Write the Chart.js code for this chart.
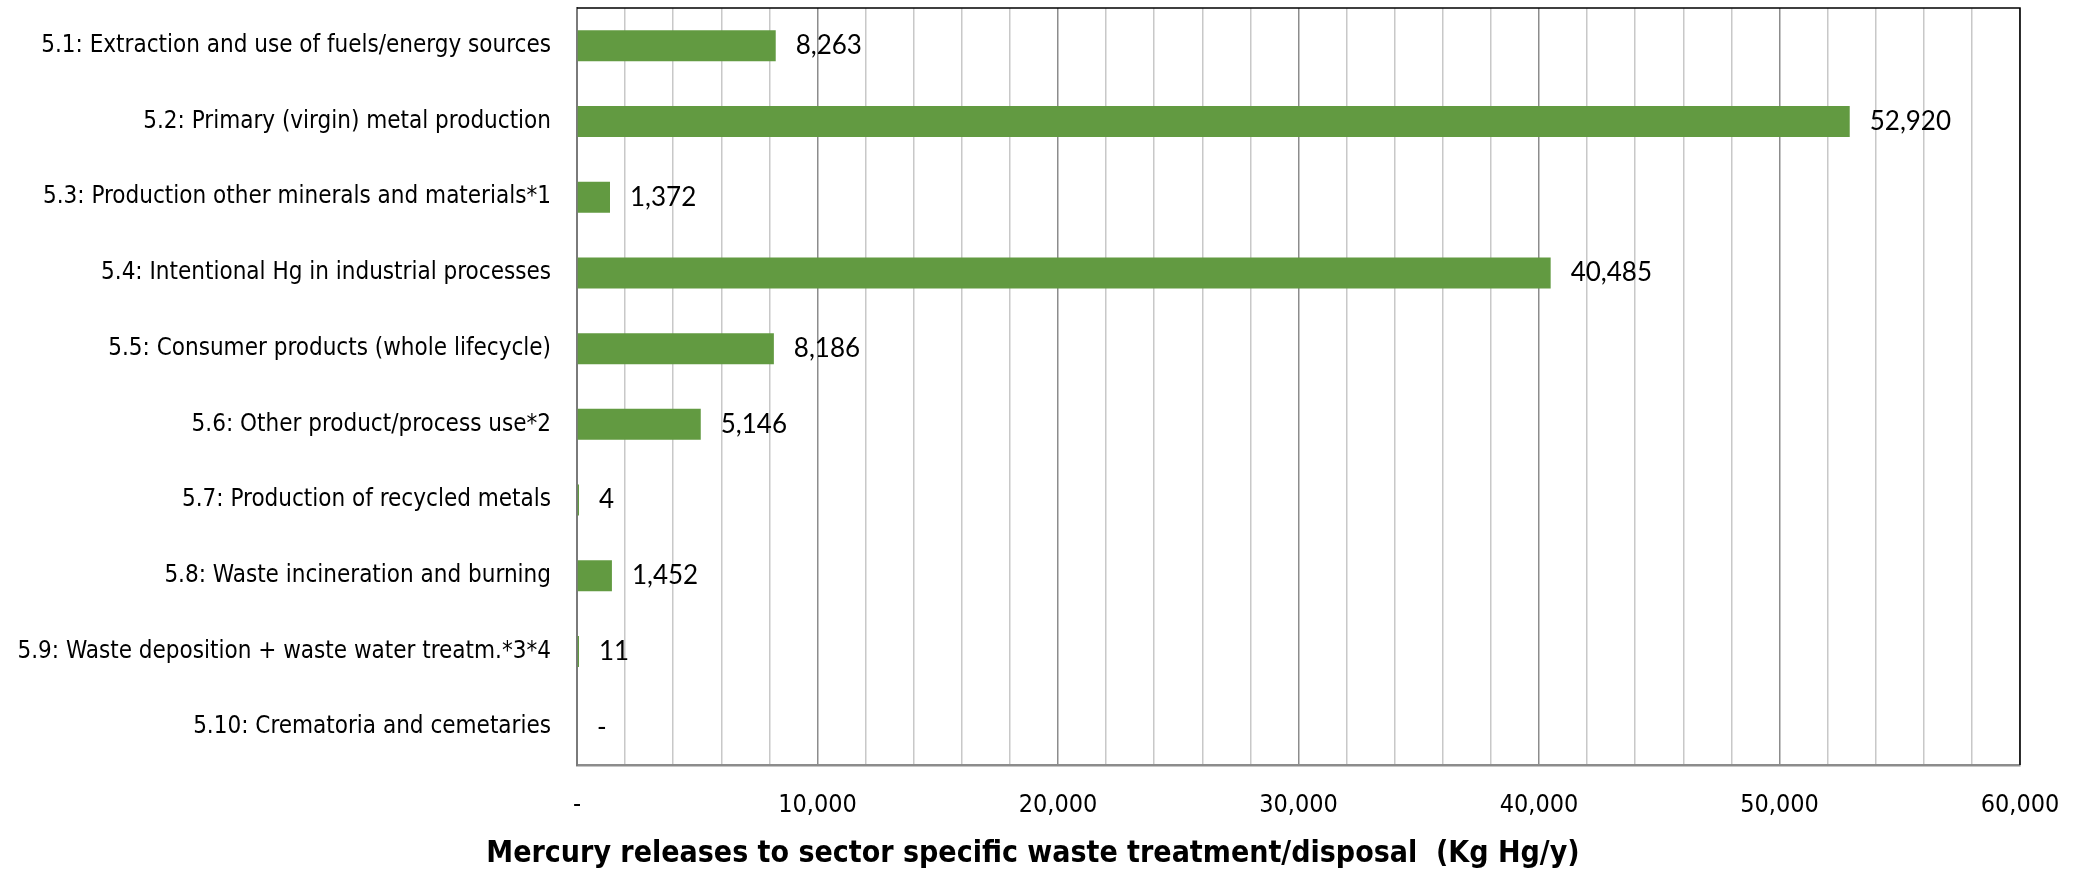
<!DOCTYPE html>
<html>
<head>
<meta charset="utf-8">
<script src="https://cdn.jsdelivr.net/npm/chart.js@4.4.0/dist/chart.umd.min.js"></script>
<style>
  html, body { margin: 0; padding: 0; background: #fff; }
  #wrap { width: 2076px; height: 872px; }
</style>
</head>
<body>
<div id="wrap"><canvas id="chart-mercury"></canvas></div>
<script>
// categories and values
var sectors = [
  '5.1: Extraction and use of fuels/energy sources',
  '5.2: Primary (virgin) metal production',
  '5.3: Production other minerals and materials*1',
  '5.4: Intentional Hg in industrial processes',
  '5.5: Consumer products (whole lifecycle)',
  '5.6: Other product/process use*2',
  '5.7: Production of recycled metals',
  '5.8: Waste incineration and burning',
  '5.9: Waste deposition + waste water treatm.*3*4',
  '5.10: Crematoria and cemetaries',
];
var releases = [8263, 52920, 1372, 40485, 8186, 5146, 4, 1452, 11, 0];
var axisMax = 60000;
var axisStep = 2000;
var labelStep = 10000;
var axisTitle = 'Mercury releases to sector specific waste treatment/disposal  (Kg Hg/y)';

var narrow = "'Liberation Sans Narrow', 'DejaVu Sans Condensed', sans-serif";

function fmt(v) {
  return v === 0 ? '-' : v.toLocaleString('en-US');
}

// value labels to the right of each bar
var barLabels = {
  id: 'barLabels',
  afterDatasetsDraw: function (chart) {
    var c = chart.ctx;
    var meta = chart.getDatasetMeta(0);
    var x0 = chart.scales.x.getPixelForValue(0);
    c.save();
    c.font = '26px Lato, sans-serif';
    c.fillStyle = '#000';
    c.textBaseline = 'middle';
    c.textAlign = 'left';
    meta.data.forEach(function (bar, i) {
      var y = chart.scales.y.getPixelForValue(i);
      var x = releases[i] === 0 ? x0 : bar.x;
      c.fillText(fmt(releases[i]), x + 20, y);
    });
    c.restore();
  },
};

// top and right border of the plot area
var frame = {
  id: 'frame',
  afterDraw: function (chart) {
    var a = chart.chartArea;
    var c = chart.ctx;
    c.save();
    c.strokeStyle = '#000';
    c.lineWidth = 1.5;
    c.beginPath();
    c.moveTo(a.left, a.top);
    c.lineTo(a.right, a.top);
    c.lineTo(a.right, a.bottom);
    c.stroke();
    c.restore();
  },
};

var ctx = document.getElementById('chart-mercury').getContext('2d');
var chart = new Chart(ctx, {
  type: 'bar',
  plugins: [barLabels, frame],
  data: {
    labels: sectors,
    datasets: [
      {
        label: 'Releases',
        // zero is shown only by its "-" label, no bar
        data: releases.map(function (v) { return v === 0 ? null : v; }),
        backgroundColor: '#629A41',
        borderWidth: 0,
        minBarLength: 2,
        barPercentage: 0.41,
        categoryPercentage: 1,
      },
    ],
  },
  options: {
    indexAxis: 'y',
    responsive: true,
    maintainAspectRatio: false,
    animation: false,
    layout: {
      padding: { top: 8, right: 10, left: 0, bottom: 0 },
    },
    plugins: {
      legend: { display: false },
      tooltip: { enabled: false },
      title: {
        display: true,
        position: 'bottom',
        text: axisTitle,
        color: '#000',
        font: { family: narrow, size: 30, weight: 'bold' },
        padding: { top: 15, bottom: 0 },
      },
    },
    scales: {
      x: {
        min: 0,
        max: axisMax,
        afterFit: function (scale) {
          scale.height = 56;
          scale.paddingLeft = 0;
          scale.paddingRight = 56;
        },
        grid: {
          drawTicks: false,
          lineWidth: 1.5,
          color: function (c) {
            return c.tick && c.tick.value % labelStep === 0 ? '#8c8c8c' : '#c8c8c8';
          },
        },
        border: { display: true, color: '#8c8c8c', width: 2.5 },
        ticks: {
          stepSize: axisStep,
          autoSkip: false,
          maxRotation: 0,
          padding: 25,
          color: '#000',
          font: { family: narrow, size: 25 },
          callback: function (v) {
            if (v % labelStep !== 0) return '';
            return fmt(v);
          },
        },
      },
      y: {
        grid: { display: false, drawTicks: false },
        border: { display: true, color: '#7a7a7a', width: 2 },
        afterFit: function (scale) {
          scale.width = 577;
          scale.paddingTop = 0;
          scale.paddingBottom = 0;
        },
        ticks: {
          padding: 26,
          color: '#000',
          font: { family: narrow, size: 24 },
        },
      },
    },
  },
});
</script>
</body>
</html>
